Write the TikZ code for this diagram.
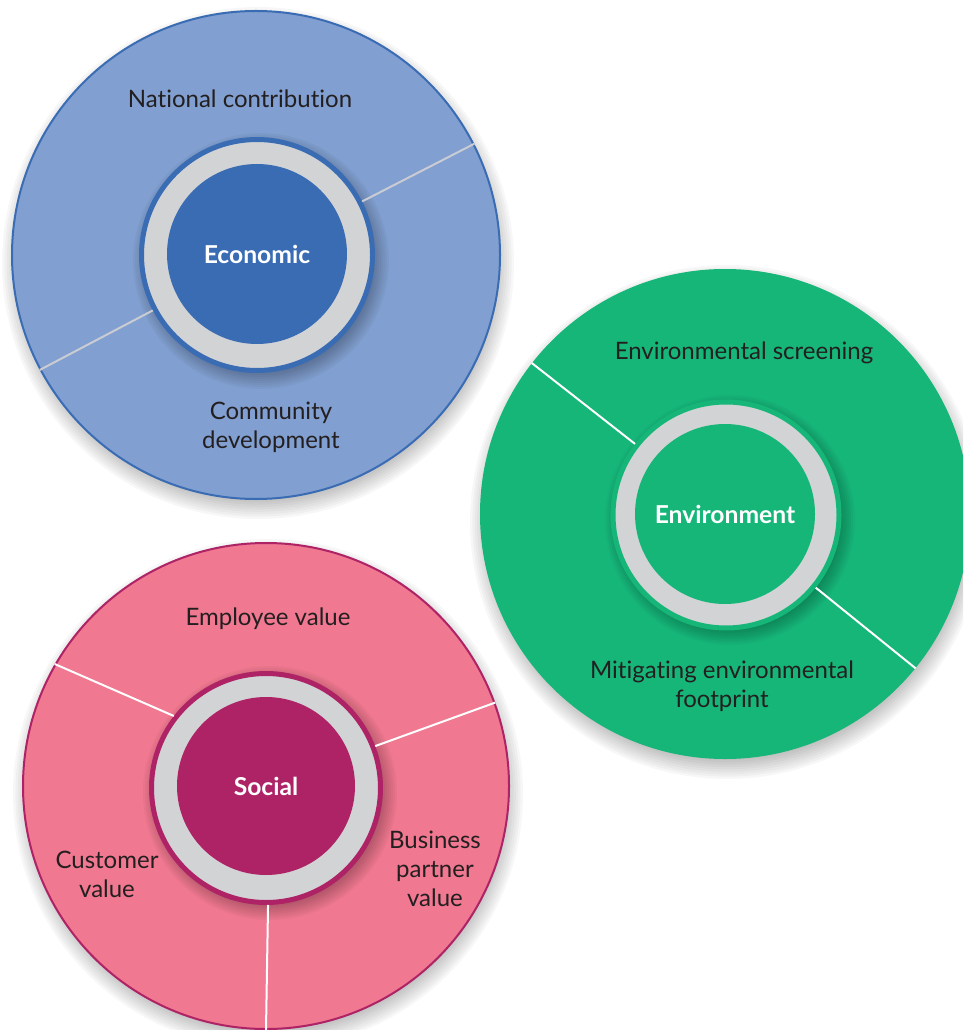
\documentclass[tikz,border=0pt]{standalone}
\usepackage{fontspec}
\setmainfont{Lato}[Ligatures=NoCommon]
\definecolor{econOut}{HTML}{819FD0}
\definecolor{econIn}{HTML}{3A6CB4}
\definecolor{envGreen}{HTML}{16B679}
\definecolor{socOut}{HTML}{F07890}
\definecolor{socIn}{HTML}{AE2266}
\definecolor{ringGray}{HTML}{D2D3D5}
\definecolor{econLine}{HTML}{C9CCD2}
\definecolor{labelInk}{HTML}{231F20}

% soft shadow: stacked translucent discs (x, y, radius, spread)
\newcommand\softshadow[4]{%
  \foreach \k in {0,...,10} {
    \fill[black, opacity=0.03] (#1,#2) circle ({#3-#4+#4*\k/5});
  }%
}

\begin{document}
\begin{tikzpicture}[x=0.75pt, y=-0.75pt,
  outerdisc/.style={circle, inner sep=0pt, minimum size={2*#1*0.75pt}},
  ringdisc/.style={circle, inner sep=0pt, minimum size={2*#1*0.75pt}, fill=ringGray, line width=3.75pt},
  coredisc/.style={circle, inner sep=0pt, minimum size={2*#1*0.75pt}, text=white,
    font=\fontsize{18.5}{22}\selectfont\bfseries},
  label/.style={align=center, text=labelInk, inner sep=0pt,
    font=\fontsize{18}{21.75}\selectfont},
  divider/.style={line width=1.5pt, white},
]
\useasboundingbox (0,0) rectangle (963,1030);
\clip (0,0) rectangle (963,1030);

% ---------- Economic ----------
\softshadow{258}{263}{244}{12}
\node[outerdisc=244, fill=econOut, draw=econIn, line width=1.5pt] (econ) at (256,255) {};
\softshadow{261}{261}{118}{10}
\node[ringdisc=115.5, draw=econIn] (econRing) at (257,255) {};
\node[coredisc=90, fill=econIn] (econCore) at (257,254) {Economic};
\draw[line width=1.5pt, econLine] (econRing.27) -- (econ.27);
\draw[line width=1.5pt, econLine] (econRing.208) -- (econ.208);
\node[label] (econA) at (240,99) {National contribution};
\node[label] (econB) at (271,427) {Community\\development};

% ---------- Environment ----------
\softshadow{727}{522}{245}{12}
\node[outerdisc=245, fill=envGreen] (env) at (725,514) {};
\softshadow{730}{520}{115}{10}
\node[ringdisc=113, draw=envGreen] (envRing) at (726,515) {};
\node[coredisc=90, fill=envGreen] (envCore) at (725,514) {Environment};
\draw[divider] (envRing.142) -- (env.142);
\draw[divider] (envRing.-39) -- (env.-39);
\node[label] (envA) at (744,353) {Environmental screening};
\node[label] (envB) at (722,686) {Mitigating environmental\\footprint};

% ---------- Social ----------
\softshadow{268}{794}{243}{12}
\node[outerdisc=243, fill=socOut, draw=socIn, line width=1.5pt] (soc) at (266,786) {};
\softshadow{270}{793}{117}{10}
\node[ringdisc=114.5, draw=socIn] (socRing) at (266,788) {};
\node[coredisc=89, fill=socIn] (socCore) at (266,786) {Social};
\draw[divider] (socRing.142) -- (soc.150);
\draw[divider] (socRing.21) -- (soc.20.5);
\draw[divider] (socRing.-89) -- (soc.-90.5);
\node[label] (socA) at (268,619) {Employee value};
\node[label] (socB) at (107,874) {Customer\\value};
\node[label] (socC) at (435,869) {Business\\partner\\value};
\end{tikzpicture}
\end{document}
